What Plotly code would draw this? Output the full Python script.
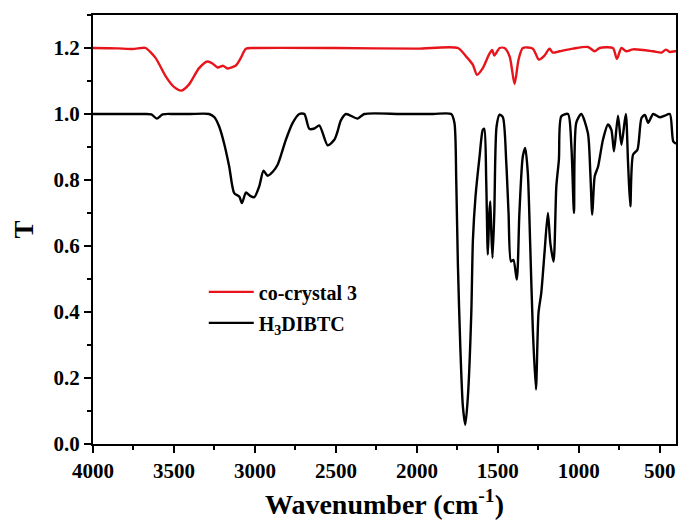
import plotly.graph_objects as go

# H3DIBTC spectrum (wavenumber, transmittance)
h3_wn = [4000, 3700, 3640, 3606, 3570, 3500, 3400, 3283, 3250, 3221, 3190, 3159, 3128, 3097, 3080, 3056, 3030, 3004,
         2974, 2947, 2922, 2890, 2860, 2809, 2767, 2726, 2695, 2664, 2633, 2602, 2551, 2510, 2490, 2470, 2438,
         2366, 2325, 2100, 1900, 1788, 1768, 1757, 1747, 1732, 1716, 1701, 1685, 1664, 1654, 1638, 1613, 1593,
         1584, 1572, 1562, 1553, 1547, 1541, 1533, 1522, 1508, 1489, 1469, 1448, 1434, 1419, 1404, 1383, 1367,
         1346, 1331, 1315, 1300, 1284, 1265, 1249, 1232, 1212, 1191, 1176, 1156, 1139, 1123, 1108, 1067, 1046,
         1030, 1016, 985, 944, 929, 917, 902, 881, 851, 820, 799, 783, 758, 737, 710, 696, 682, 665, 638, 613,
         592, 572, 541, 500, 469, 438, 417, 400]
h3_t = [1.0, 1.0, 0.999, 0.986, 0.999, 1.0, 1.0, 1.0, 0.99, 0.962, 0.91, 0.841, 0.76, 0.75, 0.73, 0.762, 0.752, 0.748,
        0.78, 0.828, 0.813, 0.825, 0.846, 0.922, 0.973, 1.0, 1.0, 0.955, 0.956, 0.965, 0.905, 0.922, 0.947, 0.98, 1.0,
        0.986, 1.0, 1.0, 1.0, 1.0, 0.973, 0.80, 0.548, 0.296, 0.114, 0.058, 0.144, 0.397, 0.619, 0.75, 0.871, 0.952,
        0.955, 0.80, 0.574, 0.70, 0.735, 0.65, 0.564, 0.70, 0.962, 0.998, 0.99, 0.852, 0.70, 0.553, 0.558, 0.498, 0.70,
        0.871, 0.897, 0.821, 0.599, 0.346, 0.165, 0.397, 0.458, 0.579, 0.70, 0.609, 0.553, 0.78, 0.862, 0.993, 1.0, 0.902,
        0.70, 0.973, 1.0, 0.942, 0.821, 0.695, 0.811, 0.841, 0.922, 0.968, 0.952, 0.887, 0.995, 0.907, 1.0, 0.852,
        0.72, 0.877, 0.892, 0.988, 0.997, 0.973, 1.0, 0.99, 0.995, 1.0, 0.917, 0.91]

# co-crystal 3 spectrum
cc_wn = [4000, 3850, 3758, 3700, 3675, 3614, 3551, 3500, 3453, 3408, 3345, 3293, 3262, 3231, 3196, 3169, 3118, 3087,
         3056, 3000, 2500, 2000, 1747, 1695, 1654, 1629, 1593, 1555, 1535, 1522, 1489, 1459, 1427, 1397, 1372, 1346,
         1284, 1247, 1212, 1181, 1160, 1119, 1036, 944, 902, 872, 790, 765, 737, 707, 665, 541, 490, 463, 438, 407, 400]
cc_t = [1.2, 1.199, 1.197, 1.2, 1.2, 1.17, 1.114, 1.082, 1.071, 1.089, 1.139, 1.159, 1.153, 1.141, 1.146, 1.138, 1.147,
        1.17, 1.198, 1.2, 1.2, 1.198, 1.2, 1.174, 1.149, 1.119, 1.139, 1.18, 1.194, 1.177, 1.2, 1.2, 1.174, 1.091,
        1.165, 1.2, 1.198, 1.165, 1.177, 1.198, 1.186, 1.19, 1.198, 1.203, 1.19, 1.2, 1.2, 1.167, 1.2, 1.19, 1.196,
        1.19, 1.186, 1.195, 1.188, 1.19, 1.19]

x_ticks = [4000, 3500, 3000, 2500, 2000, 1500, 1000, 500]
y_ticks = [0.0, 0.2, 0.4, 0.6, 0.8, 1.0, 1.2]

FONT = "Liberation Serif"

fig = go.Figure()
fig.add_trace(go.Scatter(x=cc_wn, y=cc_t, mode="lines", name="co-crystal 3",
                         line=dict(color="#e8141b", width=2.4, shape="spline", smoothing=0.7),
                         legendgroup="a"))
fig.add_trace(go.Scatter(x=h3_wn, y=h3_t, mode="lines", name="H<sub>3</sub>DIBTC",
                         line=dict(color="black", width=2.4, shape="spline", smoothing=0.7),
                         legendgroup="b"))

axis_common = dict(showline=True, linecolor="black", linewidth=2, mirror=True,
                   ticks="outside", tickcolor="black", tickwidth=2, ticklen=7,
                   showgrid=False, zeroline=False, automargin=False,
                   tickfont=dict(family=FONT, size=21, color="black", weight="bold"))

fig.update_xaxes(range=[4000, 400], tickvals=x_ticks, ticktext=[str(v) for v in x_ticks],
                 minor=dict(ticks="outside", ticklen=4, tickwidth=2, tickcolor="black", dtick=250, tick0=0),
                 title=dict(text="Wavenumber (cm<sup>-1</sup>)", standoff=12,
                            font=dict(family=FONT, size=28, color="black", weight="bold")),
                 **axis_common)
fig.update_yaxes(range=[0, 1.3], tickvals=y_ticks, ticktext=[f"{v:.1f}" for v in y_ticks],
                 minor=dict(ticks="outside", ticklen=4, tickwidth=2, tickcolor="black", dtick=0.1, tick0=0),
                 title=dict(text="T", standoff=12,
                            font=dict(family=FONT, size=27, color="black", weight="bold")),
                 **axis_common)

fig.update_layout(width=681, height=521, margin=dict(l=93, r=5, t=15, b=77),
                  plot_bgcolor="white", paper_bgcolor="white",
                  legend=dict(x=0.19, y=0.40, xanchor="left", yanchor="top", itemwidth=45,
                              bgcolor="rgba(0,0,0,0)", tracegroupgap=2, traceorder="grouped",
                              font=dict(family=FONT, size=20, color="black", weight="bold")),
                  showlegend=True)

fig.write_html("out.html")
